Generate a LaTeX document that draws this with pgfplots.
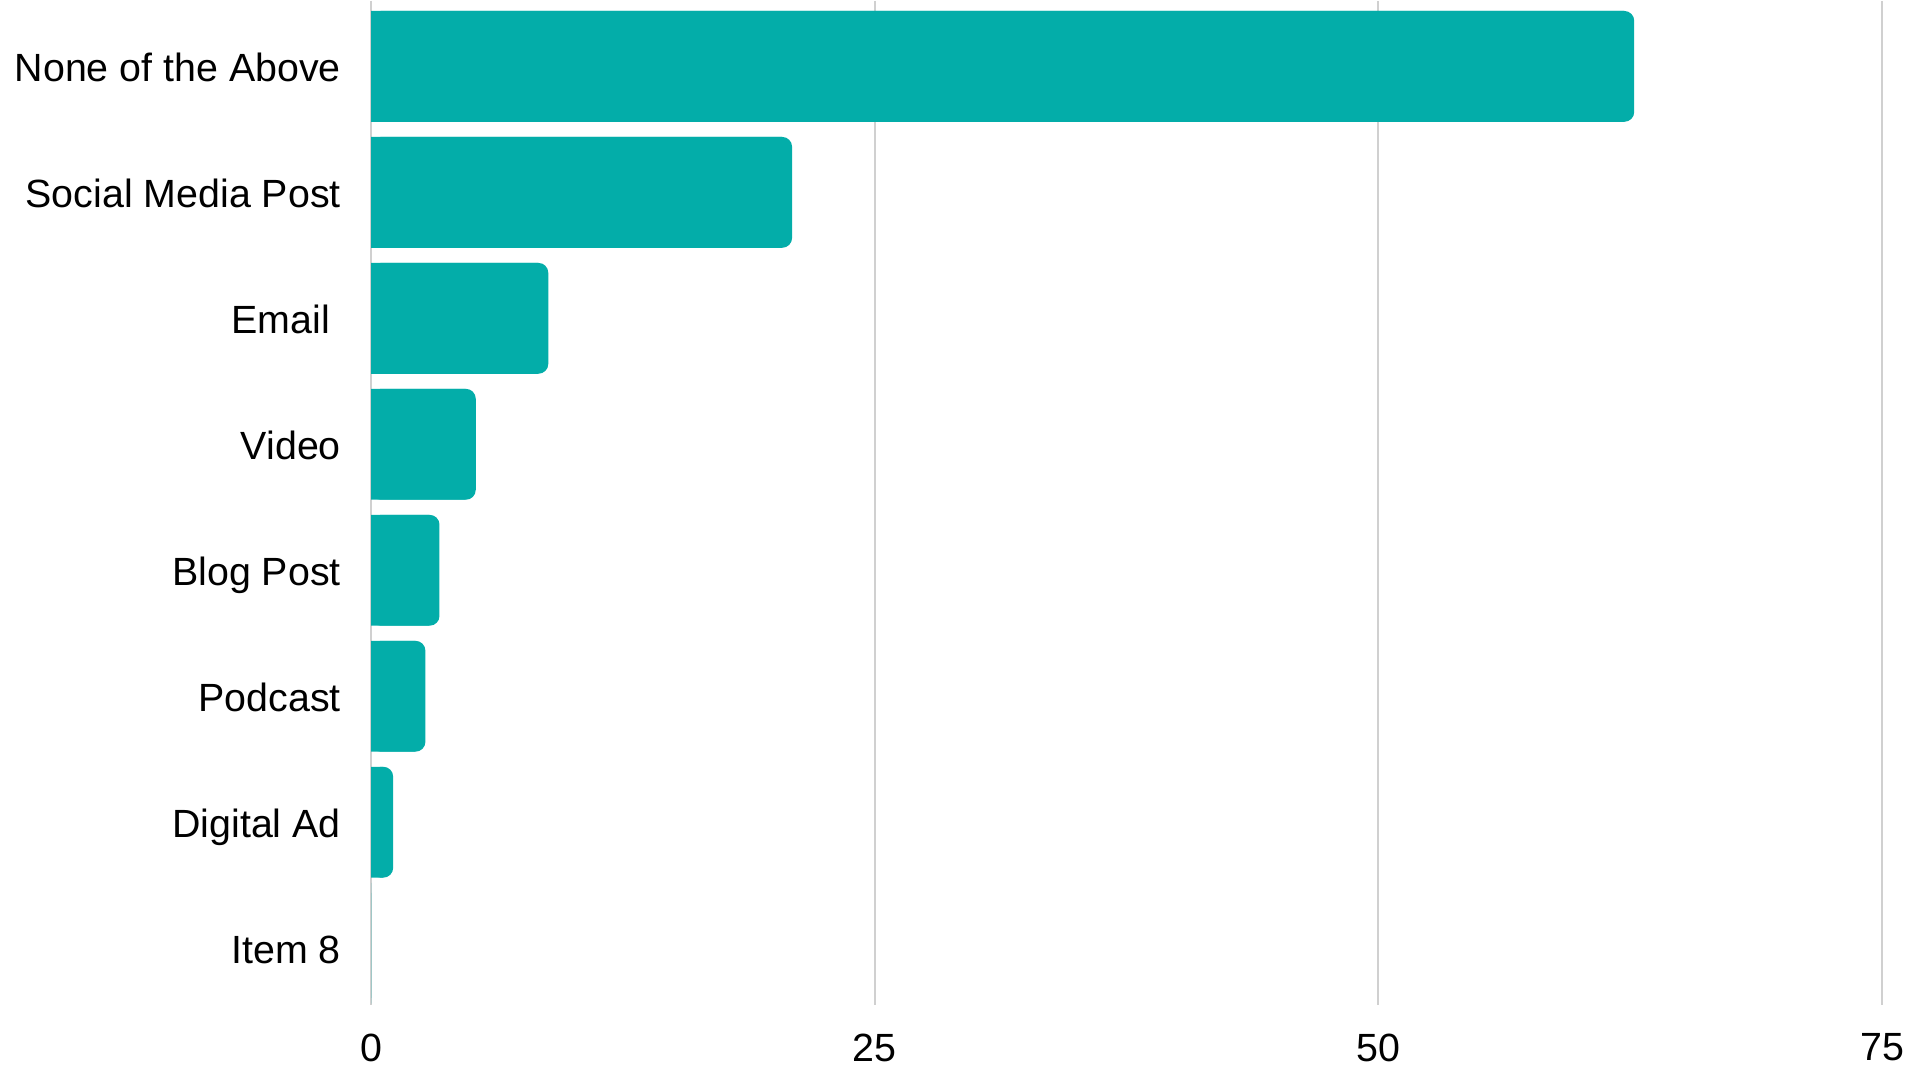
\documentclass[border=0pt]{standalone}
\usepackage{pgfplots}
\pgfplotsset{compat=1.18}
\usepackage{fontspec}
\setmainfont{Liberation Sans}
\definecolor{teal}{RGB}{3,173,169}
\definecolor{gridgray}{RGB}{208,208,208}

\begin{document}
\begin{tikzpicture}[x=1cm,y=1cm]
\path (-3.71,-0.76) rectangle (15.49,10.04);
\begin{axis}[
    at={(0,0)}, anchor=south west,
    scale only axis,
    width=15.11cm, height=10.04cm,
    xbar, bar width=0.88, bar shift=0pt,
    y dir=reverse,
    xmin=0, xmax=75,
    ymin=-0.52, ymax=7.45,
    xtick={0,25,50,75},
    ytick={0,...,7},
    yticklabels={None of the Above, Social Media Post, Email\hbox to 0.28em{}, Video, Blog Post, Podcast, Digital Ad, Item 8},
    xmajorgrids,
    grid style={gridgray, line width=0.5pt},
    axis line style={draw=none},
    major tick length=0pt,
    tick label style={font=\fontsize{11.2}{13.4}\selectfont, text=black},
    yticklabel style={inner sep=0pt, xshift=-0.295cm, yshift=-0.025cm, text height=0.716em, text depth=0pt},
    xticklabel style={inner sep=0pt, anchor=north, yshift=-0.28cm},
    /pgf/number format/assume math mode=true,
    clip=false,
]
% bars, rounded at the end
\addplot[fill=teal, draw=none, rounded corners=2.8pt] coordinates {
    (62.7,0) (20.9,1) (8.8,2) (5.2,3) (3.4,4) (2.7,5) (1.1,6) (0,7)
};
% square base for the same bars
\addplot[fill=teal, draw=none] coordinates {
    (62.2,0) (20.4,1) (8.3,2) (4.7,3) (2.9,4) (2.2,5) (0.6,6) (0,7)
};
\end{axis}
\end{tikzpicture}
\end{document}
